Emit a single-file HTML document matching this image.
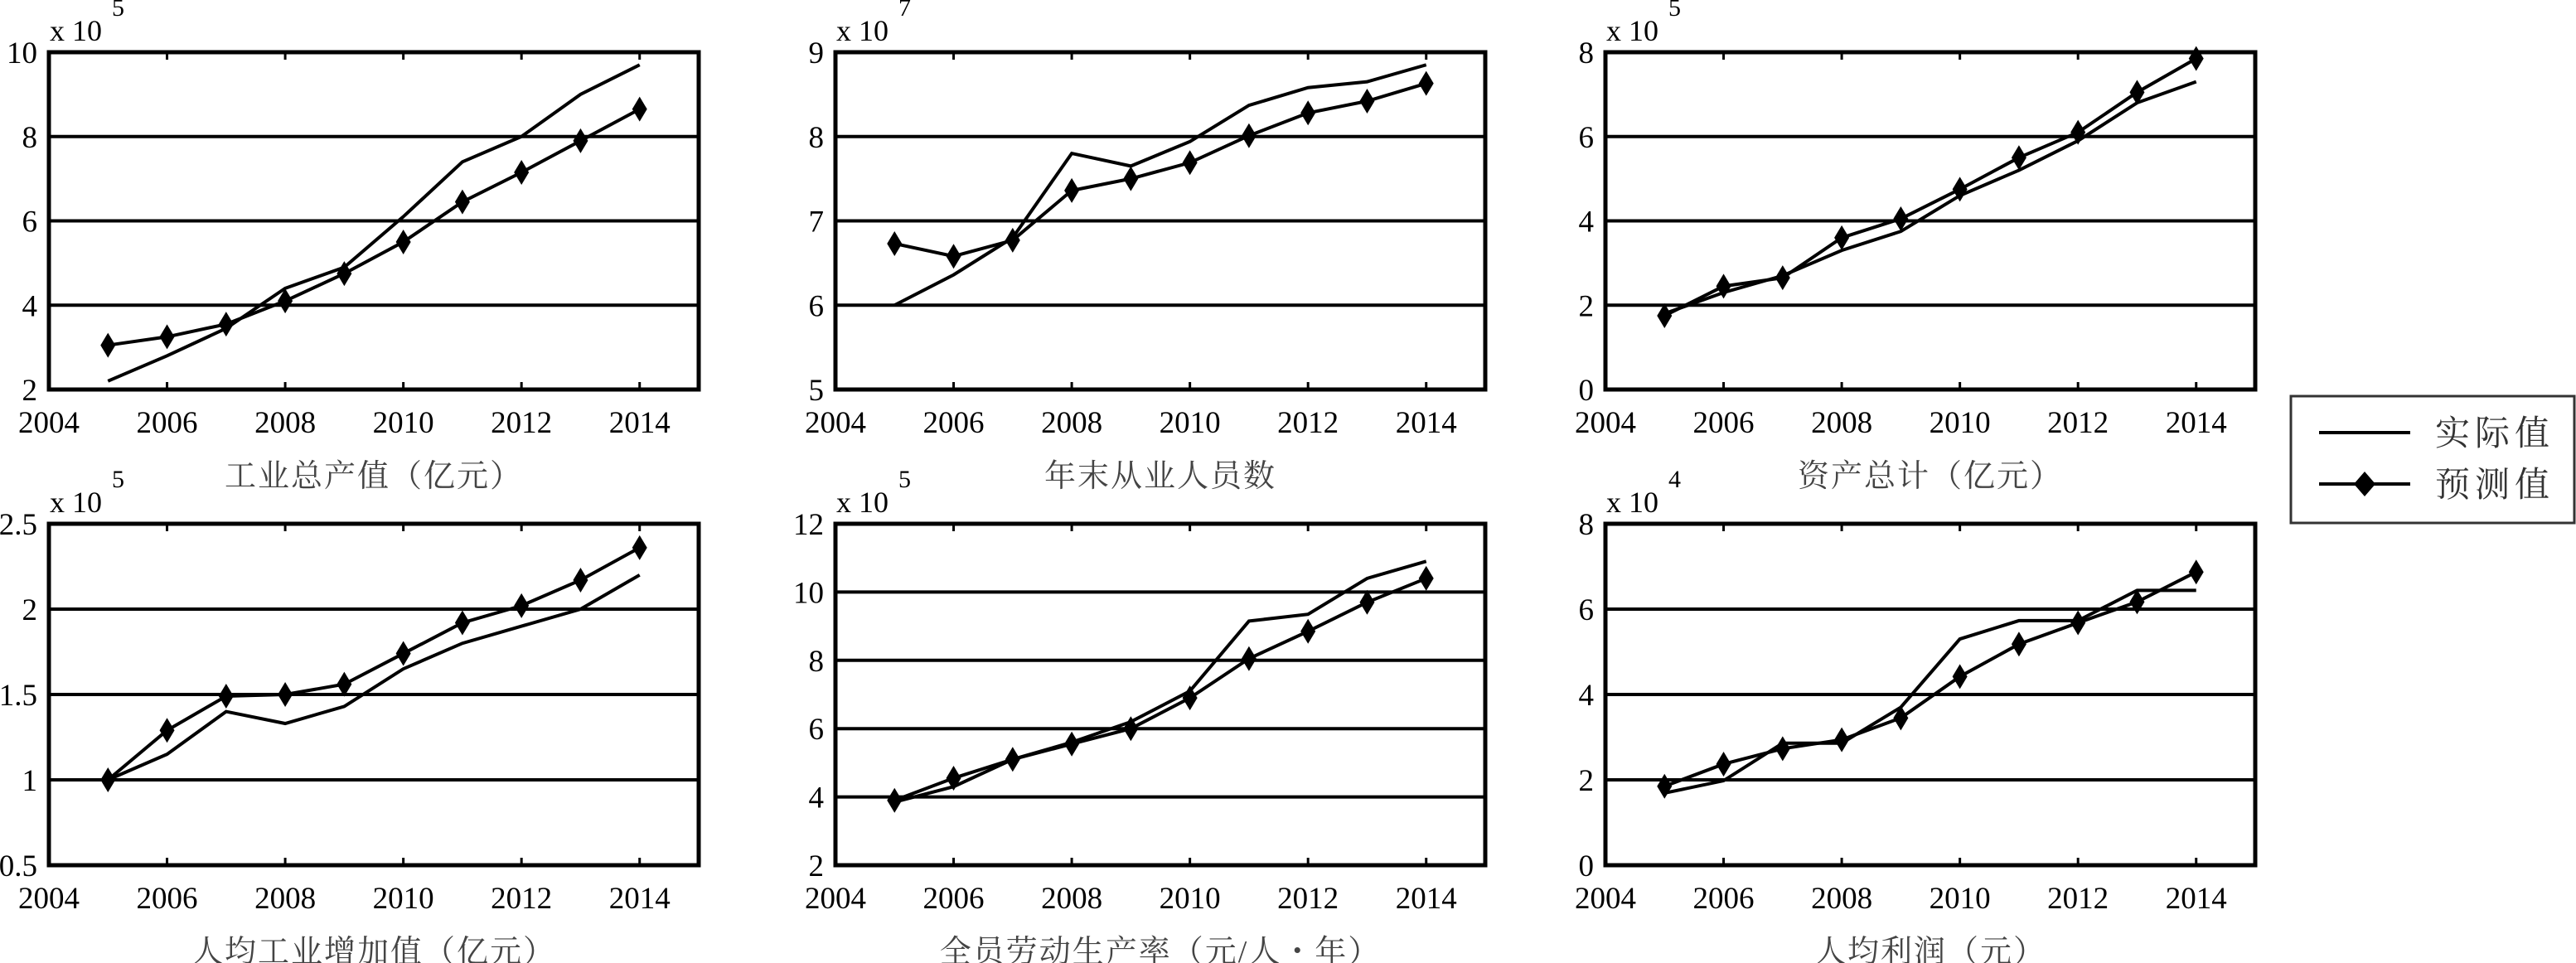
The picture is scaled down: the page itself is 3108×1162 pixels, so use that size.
<!DOCTYPE html>
<html><head><meta charset="utf-8"><style>
html,body{margin:0;padding:0;background:#fff;}
svg{display:block;}
</style></head><body>
<svg id="chart" width="3108" height="1162" viewBox="0 0 3108 1162" xmlns="http://www.w3.org/2000/svg"></svg>
<script>
const years = [2005,2006,2007,2008,2009,2010,2011,2012,2013,2014];
const xTicks = [2004,2006,2008,2010,2012,2014];
const titles = ["工业总产值（亿元）","年末从业人员数","资产总计（亿元）","人均工业增加值（亿元）","全员劳动生产率（元/人・年）","人均利润（元）"];
const exponents = ["5","7","5","5","5","4"];
const yTicks1 = [2,4,6,8,10];
const yTicks2 = [5,6,7,8,9];
const yTicks3 = [0,2,4,6,8];
const yTicks4 = [0.5,1,1.5,2,2.5];
const yTicks5 = [2,4,6,8,10,12];
const yTicks6 = [0,2,4,6,8];
const actual1 = [2.2,2.8,3.45,4.4,4.9,6.1,7.4,8.0,9.0,9.7];
const pred1   = [3.05,3.25,3.55,4.1,4.75,5.5,6.45,7.15,7.9,8.65];
const actual2 = [6.0,6.36,6.8,7.8,7.65,7.94,8.37,8.58,8.65,8.85];
const pred2   = [6.73,6.58,6.77,7.36,7.5,7.69,8.01,8.28,8.42,8.63];
const actual3 = [1.8,2.3,2.7,3.3,3.75,4.6,5.2,5.9,6.8,7.3];
const pred3   = [1.75,2.45,2.65,3.6,4.05,4.75,5.5,6.1,7.05,7.85];
const actual4 = [1.0,1.15,1.4,1.33,1.43,1.65,1.8,1.9,2.0,2.2];
const pred4   = [1.0,1.29,1.49,1.5,1.56,1.74,1.92,2.02,2.17,2.36];
const actual5 = [3.85,4.3,5.1,5.6,6.2,7.1,9.15,9.35,10.4,10.9];
const pred5   = [3.9,4.55,5.1,5.55,6.0,6.9,8.05,8.85,9.7,10.4];
const actual6 = [1.69,1.98,2.86,2.86,3.7,5.3,5.73,5.73,6.44,6.44];
const pred6   = [1.85,2.37,2.73,2.94,3.45,4.42,5.18,5.68,6.17,6.87];

const NS="http://www.w3.org/2000/svg";
const svg=document.getElementById('chart');
function mk(tag,attrs,parent){const e=document.createElementNS(NS,tag);for(const k in attrs)e.setAttribute(k,attrs[k]);(parent||svg).appendChild(e);return e;}

const panels=[
 {L:59,T:63,W:784,H:407,yt:yTicks1,a:actual1,p:pred1},
 {L:1008,T:63,W:784,H:407,yt:yTicks2,a:actual2,p:pred2},
 {L:1937,T:63,W:784,H:407,yt:yTicks3,a:actual3,p:pred3},
 {L:59,T:632,W:784,H:412,yt:yTicks4,a:actual4,p:pred4},
 {L:1008,T:632,W:784,H:412,yt:yTicks5,a:actual5,p:pred5},
 {L:1937,T:632,W:784,H:412,yt:yTicks6,a:actual6,p:pred6}
];
const FONT='"Liberation Serif", serif';
const CJK='"Liberation Serif", "Noto Serif CJK SC", serif';

panels.forEach((P,i)=>{
  const g=mk('g',{});
  
  
  const ymin=P.yt[0], ymax=P.yt[P.yt.length-1];
  const xs=v=>P.L+(v-2004)/(2015-2004)*P.W;
  const ys=v=>P.T+P.H-(v-ymin)/(ymax-ymin)*P.H;
  // grid lines
  P.yt.slice(1,-1).forEach(v=>{
    const l=mk('line',{x1:P.L,x2:P.L+P.W,y1:ys(v),y2:ys(v),stroke:'#000','stroke-width':4},g);
    
    
  });
  // ticks
  xTicks.slice(1).forEach(v=>{
    mk('line',{x1:xs(v),x2:xs(v),y1:P.T,y2:P.T+9,stroke:'#000','stroke-width':3},g);
    mk('line',{x1:xs(v),x2:xs(v),y1:P.T+P.H,y2:P.T+P.H-9,stroke:'#000','stroke-width':3},g);
  });
  // frame
  const f=mk('rect',{x:P.L,y:P.T,width:P.W,height:P.H,fill:'none',stroke:'#000','stroke-width':5},g);
  
  
  // x tick labels
  xTicks.forEach(v=>{
    const t=mk('text',{x:xs(v),y:P.T+P.H+52,'text-anchor':'middle','font-family':FONT,'font-size':37,fill:'#000'},g);
    t.textContent=v;
    
    
  });
  // y tick labels
  P.yt.forEach(v=>{
    const t=mk('text',{x:P.L-14,y:ys(v)+13,'text-anchor':'end','font-family':FONT,'font-size':37,fill:'#000'},g);
    t.textContent=v;
    
    
  });
  // exponent
  const ex=mk('text',{x:P.L+1,y:P.T-14,'font-family':FONT,'font-size':36,fill:'#000'},g);
  ex.textContent='x 10';
  
  
  const e2=mk('text',{x:P.L+76,y:P.T-44,'font-family':FONT,'font-size':30,fill:'#000'},g);
  e2.textContent=exponents[i];
  
  
  // title
  const tt=mk('text',{x:P.L+P.W/2,y:P.T+P.H+117,'text-anchor':'middle','font-family':CJK,'font-size':38,fill:'#444','letter-spacing':2},g);
  tt.textContent=titles[i];
  
  
  // actual line
  const la=mk('polyline',{points:years.map((y,k)=>xs(y)+','+ys(P.a[k])).join(' '),fill:'none',stroke:'#000','stroke-width':4,'stroke-linejoin':'miter'},g);
  
  
  // predicted line
  const lp=mk('polyline',{points:years.map((y,k)=>xs(y)+','+ys(P.p[k])).join(' '),fill:'none',stroke:'#000','stroke-width':4},g);
  
  
  years.forEach((y,k)=>{
    const cx=xs(y),cy=ys(P.p[k]);
    const d=mk('polygon',{points:`${cx},${cy-15} ${cx+9},${cy} ${cx},${cy+15} ${cx-9},${cy}`,fill:'#000'},g);
    
    
  });
});
// legend
const lg=mk('g',{});


mk('rect',{x:2764,y:478,width:342,height:153,fill:'#fff',stroke:'#333','stroke-width':3},lg);
mk('line',{x1:2798,x2:2908,y1:522,y2:522,stroke:'#000','stroke-width':4},lg);
mk('line',{x1:2798,x2:2908,y1:584,y2:584,stroke:'#000','stroke-width':4},lg);
mk('polygon',{points:'2853,569 2866,584 2853,599 2840,584',fill:'#000'},lg);
const t1=mk('text',{x:2938,y:537,'font-family':CJK,'font-size':42,fill:'#333','letter-spacing':6},lg);
t1.textContent='实际值';


const t2=mk('text',{x:2938,y:599,'font-family':CJK,'font-size':42,fill:'#333','letter-spacing':6},lg);
t2.textContent='预测值';


</script>
</body></html>
